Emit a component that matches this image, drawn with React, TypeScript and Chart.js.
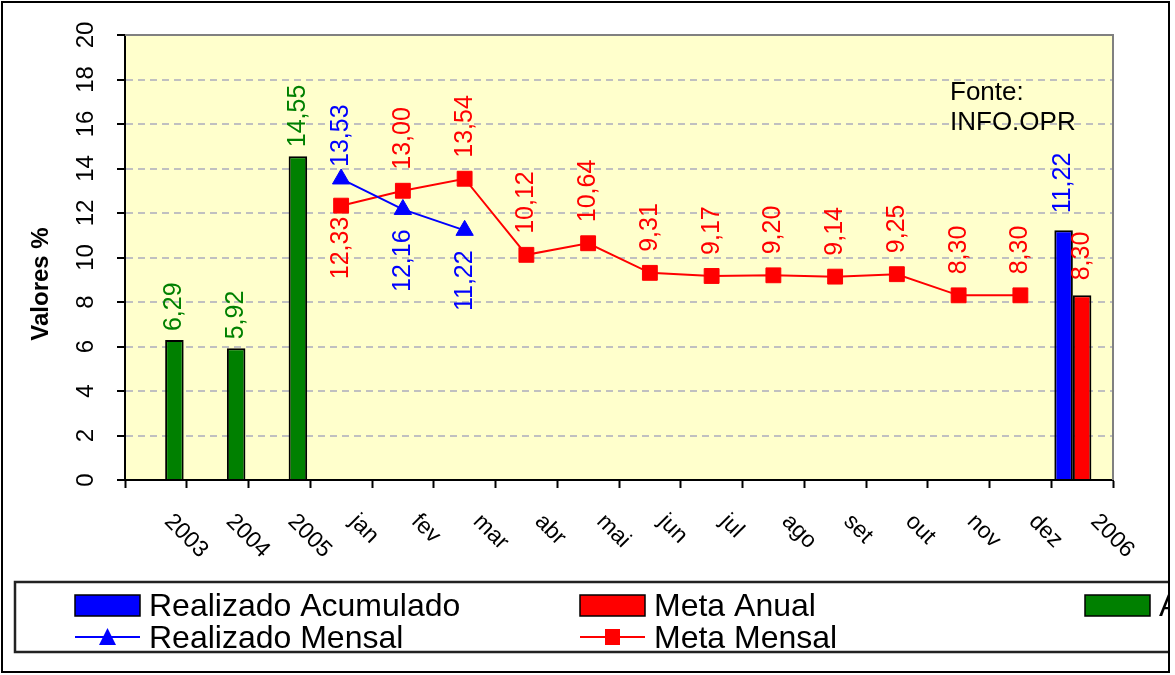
import React, { useEffect, useRef } from 'react';
import { Chart, registerables } from 'chart.js';

Chart.register(...registerables);

// ---------- DATA ----------
const categories = ['2003', '2004', '2005', 'jan', 'fev', 'mar', 'abr', 'mai', 'jun', 'jul', 'ago', 'set', 'out', 'nov', 'dez', '2006'];

const realizadoAcumulado: (number | null)[] = [null, null, null, null, null, null, null, null, null, null, null, null, null, null, null, 11.22];
const metaAnual: (number | null)[] = [null, null, null, null, null, null, null, null, null, null, null, null, null, null, null, 8.30];
const anual: (number | null)[] = [6.29, 5.92, 14.55, null, null, null, null, null, null, null, null, null, null, null, null, null];
const realizadoMensal: (number | null)[] = [null, null, null, 13.53, 12.16, 11.22, null, null, null, null, null, null, null, null, null, null];
const metaMensal: (number | null)[] = [null, null, null, 12.33, 13.00, 13.54, 10.12, 10.64, 9.31, 9.17, 9.20, 9.14, 9.25, 8.30, 8.30, null];

const yTicks = [0, 2, 4, 6, 8, 10, 12, 14, 16, 18, 20];

// label placement relative to the point
const realizadoMensalPos = ['', '', '', 'above', 'below', 'below', '', '', '', '', '', '', '', '', '', ''];
const metaMensalPos = ['', '', '', 'below', 'above', 'above', 'above', 'above', 'above', 'above', 'above', 'above', 'above', 'above', 'above', ''];

const FONT = "'Liberation Sans', Arial, sans-serif";
const BLUE = '#0000FF';
const RED = '#FF0000';
const GREEN = '#008000';

const fmt = (v: number) => v.toFixed(2).replace('.', ',');

export default function App() {
  const ref = useRef<HTMLCanvasElement>(null);

  useEffect(() => {
    document.body.style.margin = '0';
    const canvas = ref.current!;

    const plugin = {
      id: 'excelLook',
      beforeDraw(chart: any) {
        const { ctx, chartArea: a, width, height } = chart;
        ctx.save();
        ctx.fillStyle = '#FFFFFF';
        ctx.fillRect(0, 0, width, height);
        ctx.fillStyle = '#FFFFCC';
        ctx.fillRect(a.left, a.top, a.right - a.left, a.bottom - a.top);
        ctx.restore();
      },
      beforeDatasetsDraw(chart: any) {
        const { ctx, chartArea: a } = chart;
        ctx.save();
        ctx.strokeStyle = '#808080';
        ctx.lineWidth = 2;
        ctx.beginPath();
        ctx.moveTo(a.left, a.top);
        ctx.lineTo(a.right, a.top);
        ctx.lineTo(a.right, a.bottom);
        ctx.stroke();
        ctx.restore();
      },
      afterDraw(chart: any) {
        const { ctx, chartArea: a } = chart;
        const xs = chart.scales.x;
        const ys = chart.scales.y;
        ctx.save();

        // y tick labels (rotated)
        ctx.fillStyle = '#000';
        ctx.font = `24px ${FONT}`;
        yTicks.forEach((v) => {
          const py = ys.getPixelForValue(v);
          ctx.save();
          ctx.translate(a.left - 32, py);
          ctx.rotate(-Math.PI / 2);
          ctx.textAlign = 'center';
          ctx.textBaseline = 'alphabetic';
          ctx.fillText(String(v), 0, 0);
          ctx.restore();
        });

        // x tick labels (rotated 45 deg clockwise)
        ctx.font = `23px ${FONT}`;
        categories.forEach((c, i) => {
          const px = xs.getPixelForValue(i);
          ctx.save();
          ctx.translate(px + 12, a.bottom + 38);
          ctx.rotate(Math.PI / 4);
          ctx.textAlign = 'left';
          ctx.textBaseline = 'middle';
          ctx.fillText(c, 0, 0);
          ctx.restore();
        });

        // y axis title
        ctx.save();
        ctx.font = `bold 24px ${FONT}`;
        ctx.translate(48, 284);
        ctx.rotate(-Math.PI / 2);
        ctx.textAlign = 'center';
        ctx.textBaseline = 'alphabetic';
        ctx.fillText('Valores %', 0, 0);
        ctx.restore();

        // source note
        ctx.font = `26px ${FONT}`;
        ctx.textAlign = 'left';
        ctx.textBaseline = 'alphabetic';
        ctx.fillText('Fonte:', 950, 100);
        ctx.fillText('INFO.OPR', 950, 130);

        // data labels
        ctx.font = `25px ${FONT}`;
        const drawLabel = (px: number, py: number, text: string, color: string, pos: string, gap: number) => {
          ctx.save();
          ctx.translate(px, pos === 'above' ? py - gap : py + gap);
          ctx.rotate(-Math.PI / 2);
          ctx.textAlign = pos === 'above' ? 'left' : 'right';
          ctx.textBaseline = 'middle';
          ctx.fillStyle = color;
          ctx.fillText(text, 0, 0);
          ctx.restore();
        };

        const barSets: [number, (number | null)[], string, number][] = [
          [2, realizadoAcumulado, BLUE, 17],
          [3, metaAnual, RED, 15],
          [4, anual, GREEN, 9],
        ];
        barSets.forEach(([di, arr, color, gap]) => {
          const meta = chart.getDatasetMeta(di);
          arr.forEach((v, j) => {
            if (v == null) return;
            const el = meta.data[j];
            drawLabel(el.x, el.y, fmt(v), color, 'above', gap);
          });
        });

        const lineSets: [number, (number | null)[], string[], string, { above: number; below: number }][] = [
          [0, realizadoMensal, realizadoMensalPos, BLUE, { above: 12, below: 20 }],
          [1, metaMensal, metaMensalPos, RED, { above: 21, below: 11 }],
        ];
        lineSets.forEach(([di, arr, posArr, color, gaps]) => {
          const meta = chart.getDatasetMeta(di);
          arr.forEach((v, j) => {
            if (v == null) return;
            const el = meta.data[j];
            const pos = posArr[j];
            drawLabel(el.x, el.y, fmt(v), color, pos, pos === 'above' ? gaps.above : gaps.below);
          });
        });

        // legend (clipped by outer frame)
        ctx.save();
        ctx.beginPath();
        ctx.rect(0, 0, 1168, 675);
        ctx.clip();
        ctx.strokeStyle = '#222';
        ctx.lineWidth = 2.5;
        ctx.beginPath();
        ctx.moveTo(1175, 582);
        ctx.lineTo(15, 582);
        ctx.lineTo(15, 652);
        ctx.lineTo(1175, 652);
        ctx.stroke();

        const ds = chart.data.datasets;
        ctx.font = `32px ${FONT}`;
        ctx.textAlign = 'left';
        ctx.textBaseline = 'alphabetic';
        const boxItems: [number, number][] = [[2, 75], [3, 580], [4, 1085]];
        boxItems.forEach(([di, lx]) => {
          ctx.fillStyle = ds[di].backgroundColor;
          ctx.fillRect(lx, 595, 65, 21);
          ctx.strokeStyle = '#000';
          ctx.lineWidth = 1.5;
          ctx.strokeRect(lx, 595, 65, 21);
          ctx.fillStyle = '#000';
          ctx.fillText(ds[di].label, lx + 74, 616);
        });
        const lineItems: [number, number][] = [[0, 75], [1, 580]];
        lineItems.forEach(([di, lx]) => {
          const col = ds[di].borderColor;
          ctx.strokeStyle = col;
          ctx.lineWidth = 2;
          ctx.beginPath();
          ctx.moveTo(lx, 637);
          ctx.lineTo(lx + 65, 637);
          ctx.stroke();
          ctx.fillStyle = col;
          const cx = lx + 32.5;
          if (ds[di].pointStyle === 'triangle') {
            ctx.beginPath();
            ctx.moveTo(cx, 628);
            ctx.lineTo(cx + 8.5, 645);
            ctx.lineTo(cx - 8.5, 645);
            ctx.closePath();
            ctx.fill();
          } else {
            ctx.fillRect(cx - 7.5, 629, 15, 16);
          }
          ctx.fillStyle = '#000';
          ctx.fillText(ds[di].label, lx + 74, 648);
        });
        ctx.restore();

        // outer frame
        ctx.strokeStyle = '#000';
        ctx.lineWidth = 2;
        ctx.strokeRect(2, 2, 1167, 670);

        ctx.restore();
      },
    };

    const chart = new Chart(canvas, {
      type: 'bar',
      data: {
        labels: categories,
        datasets: [
          {
            type: 'line',
            label: 'Realizado Mensal',
            data: realizadoMensal,
            borderColor: BLUE,
            backgroundColor: BLUE,
            borderWidth: 2,
            pointStyle: 'triangle',
            pointRadius: 10,
            pointBorderWidth: 1,
            pointBackgroundColor: BLUE,
            pointBorderColor: BLUE,
            order: 0,
          } as any,
          {
            type: 'line',
            label: 'Meta Mensal',
            data: metaMensal,
            borderColor: RED,
            backgroundColor: RED,
            borderWidth: 2,
            pointStyle: 'rect',
            pointRadius: 10.5,
            pointBorderWidth: 1,
            pointBackgroundColor: RED,
            pointBorderColor: RED,
            order: 1,
          } as any,
          {
            type: 'bar',
            label: 'Realizado Acumulado',
            data: realizadoAcumulado,
            backgroundColor: BLUE,
            borderColor: '#000',
            borderWidth: 2,
            order: 2,
          } as any,
          {
            type: 'bar',
            label: 'Meta Anual',
            data: metaAnual,
            backgroundColor: RED,
            borderColor: '#000',
            borderWidth: 2,
            order: 3,
          } as any,
          {
            type: 'bar',
            label: 'Anual',
            data: anual,
            backgroundColor: GREEN,
            borderColor: '#000',
            borderWidth: 2,
            order: 4,
          } as any,
        ],
      },
      options: {
        animation: false,
        responsive: false,
        devicePixelRatio: 1,
        events: [],
        layout: { padding: { left: 117, top: 35, right: 62, bottom: 187 } },
        datasets: { bar: { categoryPercentage: 0.9, barPercentage: 1.0 } },
        plugins: { legend: { display: false }, tooltip: { enabled: false }, title: { display: false } },
        scales: {
          x: {
            offset: true,
            ticks: { display: false },
            grid: {
              offset: true,
              drawOnChartArea: false,
              drawTicks: true,
              tickLength: 8,
              tickColor: '#000',
              tickWidth: 2,
            },
            border: { display: true, color: '#000', width: 2 },
            afterFit: (s: any) => { s.height = 8; },
          },
          y: {
            min: 0,
            max: 20,
            ticks: { display: false, stepSize: 2 },
            grid: {
              color: (c: any) => (c.tick && (c.tick.value === 0 || c.tick.value === 20) ? 'rgba(0,0,0,0)' : '#C0C0C0'),
              lineWidth: 2,
              drawTicks: true,
              tickLength: 8,
              tickColor: '#000',
              tickWidth: 2,
            },
            border: { display: true, color: '#000', width: 2, dash: [7, 5] },
            afterFit: (s: any) => { s.width = 8; },
          },
        },
      } as any,
      plugins: [plugin],
    });

    return () => chart.destroy();
  }, []);

  return <canvas ref={ref} width={1175} height={675} style={{ display: 'block' }} />;
}
